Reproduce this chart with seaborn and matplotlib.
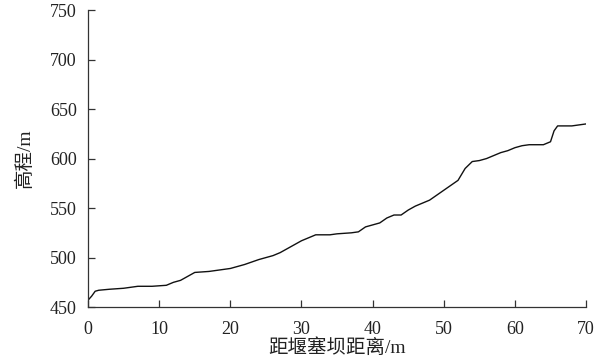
import matplotlib
matplotlib.use("Agg")
import matplotlib.pyplot as plt
import seaborn as sns
import pandas as pd

distance = [0, 0.5, 1, 1.5, 3, 5, 7, 9, 11, 12, 13, 14, 15, 17, 19, 20, 22, 24, 25, 26,
            27, 28, 29, 30, 31, 32, 34, 35, 37, 38, 39, 40, 41, 42, 43, 44, 45, 46, 47,
            48, 49, 50, 51, 52, 53, 54, 55, 56, 57, 58, 59, 60, 61, 62, 63, 64, 65, 65.5,
            66, 67, 68, 69, 70]
elevation = [457, 461, 466, 467, 468, 469, 471, 471, 472, 475, 477, 481, 485, 486, 488, 489,
             493, 498, 500, 502, 505, 509, 513, 517, 520, 523, 523, 524, 525, 526, 531, 533,
             535, 540, 543, 543, 548, 552, 555, 558, 563, 568, 573, 578, 590, 597, 598, 600,
             603, 606, 608, 611, 613, 614, 614, 614, 617, 628, 633, 633, 633, 634, 635]
x_ticks = [0, 10, 20, 30, 40, 50, 60, 70]
y_ticks = [450, 500, 550, 600, 650, 700, 750]
x_label = "距堰塞坝距离/m"
y_label = "高程/m"

sns.set_style("ticks")
plt.rcParams["font.family"] = ["Liberation Serif", "Noto Sans CJK SC", "DejaVu Sans"]

df = pd.DataFrame({"d": distance, "h": elevation})

fig = plt.figure(figsize=(5.95, 3.6), dpi=100)
ax = fig.add_axes([0.148, 0.147, 0.837, 0.825])
sns.lineplot(data=df, x="d", y="h", ax=ax, color="#111111", linewidth=1.0)

ax.set_xlim(0, 70)
ax.set_ylim(450, 750)
ax.set_xticks(x_ticks)
ax.set_yticks(y_ticks)
ax.tick_params(direction="in", length=5, width=0.9, colors="#333333", labelsize=13,
               labelcolor="#222222")
ax.tick_params(axis="x", pad=10)
ax.tick_params(axis="y", pad=8)
for s in ["top", "right"]:
    ax.spines[s].set_visible(False)
for s in ["left", "bottom"]:
    ax.spines[s].set_color("#333333")
    ax.spines[s].set_linewidth(0.9)

ax.set_xlabel(x_label, fontsize=14, color="#222222", labelpad=0)
ax.set_ylabel(y_label, fontsize=14, color="#222222", labelpad=12)

fig.savefig("out.png", dpi=100)
